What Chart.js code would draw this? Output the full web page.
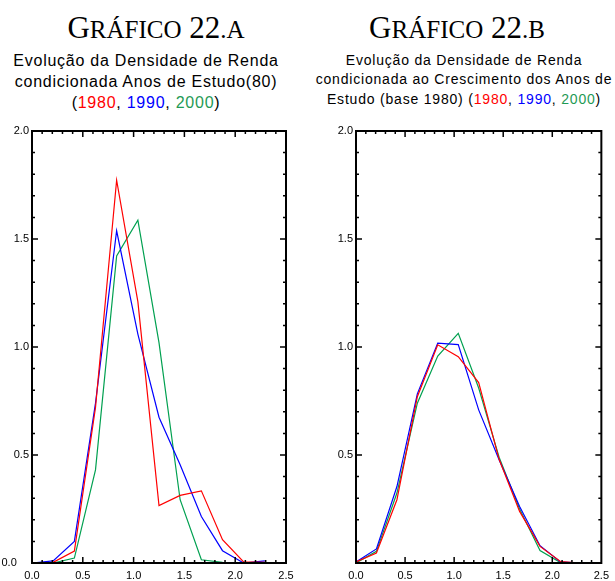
<!DOCTYPE html>
<html>
<head>
<meta charset="utf-8">
<script src="https://cdn.jsdelivr.net/npm/chart.js@4.4.1/dist/chart.umd.min.js"></script>
<style>
  html, body { margin:0; padding:0; background:#fff; }
  body { width:615px; height:581px; position:relative; overflow:hidden; }
  .title { position:absolute; font-family:"Liberation Serif","Times New Roman",serif; font-size:31px; line-height:40px; text-align:center; white-space:nowrap; color:#000; }
  .title .sc { font-size:25px; }
  .sub { position:absolute; font-family:"Liberation Sans",Arial,sans-serif; text-align:center; white-space:nowrap; color:#000; }
  .subA { font-size:16px; line-height:21px; letter-spacing:0.75px; }
  .subB { font-size:14px; line-height:19.3px; letter-spacing:0.8px; }
  .r { color:#ff0000; } .b { color:#0000ff; } .g { color:#1f9a55; }
  canvas { position:absolute; top:0; }
</style>
</head>
<body>
<div class="title" style="left:0;top:8px;width:312px;">G<span class="sc">RÁFICO</span> 22<span class="sc">.A</span></div>
<div class="sub subA" style="left:0;top:50px;width:292px;">Evolução da Densidade de Renda<br>condicionada Anos de Estudo(80)<br>(<span class="r">1980</span>, <span class="b">1990</span>, <span class="g">2000</span>)</div>
<div class="title" style="left:307px;top:8px;width:300px;">G<span class="sc">RÁFICO</span> 22<span class="sc">.B</span></div>
<div class="sub subB" style="left:314px;top:51px;width:300px;">Evolução da Densidade de Renda<br>condicionada ao Crescimento dos Anos de<br>Estudo (base 1980) (<span class="r">1980</span>, <span class="b">1990</span>, <span class="g">2000</span>)</div>
<canvas id="cA" width="307" height="581" style="left:0;width:307px;height:581px;"></canvas>
<canvas id="cB" width="308" height="581" style="left:307px;width:308px;height:581px;"></canvas>
<script>
// Data
const xValues = [0, 0.208, 0.417, 0.625, 0.833, 1.042, 1.25, 1.458, 1.667, 1.875, 2.083, 2.292];
const seriesNames = ['1980', '1990', '2000'];
// Chart 22.A
const a1980 = [0.0, 0.003, 0.055, 0.72, 1.772, 1.21, 0.266, 0.313, 0.334, 0.108, 0.005, 0.003];
const a1990 = [0.0, 0.010, 0.100, 0.74, 1.538, 1.06, 0.675, 0.455, 0.215, 0.057, 0.0, 0.010];
const a2000 = [0.0, 0.0, 0.023, 0.431, 1.422, 1.587, 1.02, 0.293, 0.015, 0.003, 0.0, 0.0];
// Chart 22.B
const b1980 = [0.005, 0.046, 0.293, 0.77, 1.010, 0.955, 0.835, 0.48, 0.239, 0.077, 0.007, 0.0];
const b1990 = [0.005, 0.065, 0.354, 0.783, 1.018, 1.011, 0.709, 0.478, 0.262, 0.080, 0.005, 0.0];
const b2000 = [0.0, 0.054, 0.324, 0.74, 0.958, 1.063, 0.81, 0.49, 0.25, 0.058, 0.002, 0.0];
const xTickLabels = ['0.0', '0.5', '1.0', '1.5', '2.0', '2.5'];
const yTickLabels = ['0.0', '0.5', '1.0', '1.5', '2.0'];

const colors = ['#ff0000', '#0000ff', '#00a050'];

const framePlugin = {
  id: 'frame',
  afterDraw(chart) {
    const ctx = chart.ctx, xs = chart.scales.x, ys = chart.scales.y, ca = chart.chartArea;
    ctx.save();
    ctx.strokeStyle = '#000';
    ctx.lineWidth = 1.5;
    // minor/major ticks
    for (let i = 1; i < 25; i++) {
      const v = i / 10;
      const px = xs.getPixelForValue(v);
      const len = (i % 5 === 0) ? 6 : 3;
      ctx.beginPath();
      ctx.moveTo(px, ca.bottom); ctx.lineTo(px, ca.bottom - len);
      ctx.moveTo(px, ca.top); ctx.lineTo(px, ca.top + len);
      ctx.stroke();
    }
    for (let i = 1; i < 20; i++) {
      const v = i / 10;
      const py = ys.getPixelForValue(v);
      const len = (i % 5 === 0) ? 6 : 3;
      ctx.beginPath();
      ctx.moveTo(ca.left, py); ctx.lineTo(ca.left + len, py);
      ctx.moveTo(ca.right, py); ctx.lineTo(ca.right - len, py);
      ctx.stroke();
    }
    ctx.lineWidth = 2;
    ctx.strokeRect(ca.left, ca.top, ca.right - ca.left, ca.bottom - ca.top);
    ctx.restore();
  }
};

function makeChart(id, series, padLeft, padRight, showZeroY) {
  const datasets = series.map((vals, k) => ({
    label: seriesNames[k],
    data: xValues.map((x, i) => ({ x: x, y: vals[i] })),
    borderColor: colors[k],
    borderWidth: 1.2,
    pointRadius: 0,
    tension: 0,
    fill: false
  }));
  return new Chart(document.getElementById(id), {
    type: 'line',
    data: { datasets },
    options: {
      responsive: false,
      animation: false,
      layout: { padding: { left: padLeft, right: padRight, top: 131, bottom: 0 } },
      plugins: { legend: { display: false }, tooltip: { enabled: false } },
      scales: {
        x: {
          type: 'linear', min: 0, max: 2.5,
          grid: { display: false, drawTicks: false },
          border: { display: false },
          afterFit(s) { s.height = 18; },
          afterBuildTicks(s) { s.ticks = xTickLabels.map(t => ({ value: parseFloat(t) })); },
          ticks: {
            padding: 6, color: '#000', maxRotation: 0, autoSkip: false,
            font: { family: 'Liberation Sans, Arial, sans-serif', size: 11 },
            callback: (v) => xTickLabels.find(t => parseFloat(t) === v)
          }
        },
        y: {
          type: 'linear', min: 0, max: 2,
          grid: { display: false, drawTicks: false },
          border: { display: false },
          afterFit(s) { s.width = 32; },
          afterBuildTicks(s) { s.ticks = yTickLabels.map(t => ({ value: parseFloat(t) })); },
          ticks: {
            padding: 3, color: '#000', autoSkip: false,
            font: { family: 'Liberation Sans, Arial, sans-serif', size: 11 },
            callback: (v) => {
              const t = yTickLabels.find(t => parseFloat(t) === v);
              if (v === 0) return showZeroY ? t + '    ' : '';
              return t;
            }
          }
        }
      }
    },
    plugins: [framePlugin]
  });
}

makeChart('cA', [a1980, a1990, a2000], 0, 21, true);
makeChart('cB', [b1980, b1990, b2000], 17, 10, false);
</script>
</body>
</html>
